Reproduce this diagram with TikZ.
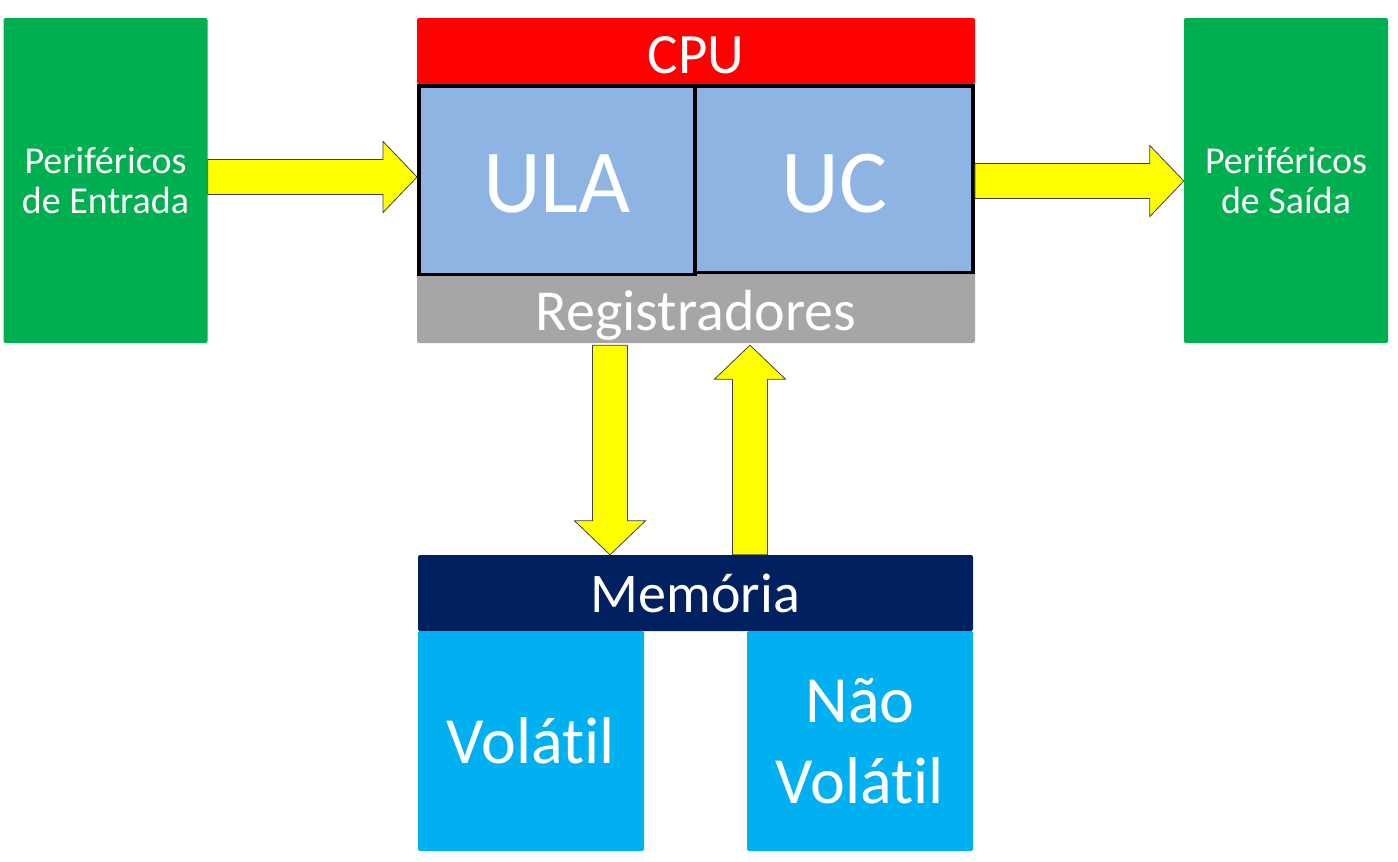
\documentclass[tikz,border=0pt]{standalone}
\usepackage{fontspec}
\setmainfont{Carlito}[Ligatures=NoCommon]
\usetikzlibrary{calc}
\definecolor{cgreen}{HTML}{00B050}
\definecolor{cred}{HTML}{FF0000}
\definecolor{cula}{HTML}{8EB4E3}
\definecolor{cgray}{HTML}{A6A6A6}
\definecolor{cnavy}{HTML}{002060}
\definecolor{ccyan}{HTML}{00B0F0}
\definecolor{cyel}{HTML}{FFFF00}
\def\sw{17.5pt}
\def\hw{35.5pt}
\def\hl{34pt}
\newcommand\arrowR[2]{\draw[barrow] let \p1=(#1), \p2=(#2) in (\x1,\y1+\sw) -- (\x2-\hl,\y1+\sw) -- (\x2-\hl,\y1+\hw) -- (\x2,\y1) -- (\x2-\hl,\y1-\hw) -- (\x2-\hl,\y1-\sw) -- (\x1,\y1-\sw) -- cycle;}
\newcommand\arrowV[2]{\draw[barrow] let \p1=(#1), \p2=(#2), \n1={sign(\y2-\y1)} in (\x1-\sw,\y1) -- (\x1-\sw,\y2-\n1*\hl) -- (\x1-\hw,\y2-\n1*\hl) -- (\x1,\y2) -- (\x1+\hw,\y2-\n1*\hl) -- (\x1+\sw,\y2-\n1*\hl) -- (\x1+\sw,\y1) -- cycle;}
\begin{document}
\begin{tikzpicture}[x=1pt,y=-1pt,
  box/.style={draw=none, rounded corners=2pt, inner sep=0pt, text=white, align=center},
  unit/.style={draw=black, line width=3.5pt, fill=cula, inner sep=0pt, text=white, font=\fontsize{90pt}{100pt}\selectfont, text depth=0pt},
  barrow/.style={fill=cyel, draw=black!75, line width=0.8pt}]
\useasboundingbox (0,0) rectangle (1398,862);
% peripherals
\node[box, fill=cgreen, minimum width=204pt, minimum height=325pt, font=\fontsize{38pt}{40.5pt}\selectfont] (pin) at (105.5,180.5) {Periféricos\\de Entrada};
\node[box, fill=cgreen, minimum width=204pt, minimum height=325pt, font=\fontsize{38pt}{40.5pt}\selectfont] (pout) at (1286,180.5) {Periféricos\\de Saída};
% CPU
\node[box, fill=cred, minimum width=558pt, minimum height=66pt, font=\fontsize{57pt}{60pt}\selectfont, text height=44pt, text depth=0pt] (cpu) at (696,51) {CPU};
\node[box, fill=cgray, minimum width=558pt, minimum height=70pt, font=\fontsize{58pt}{60pt}\selectfont, text height=44pt, text depth=0pt] (reg) at (696,308) {Registradores};
\node[unit, minimum width=276.25pt, minimum height=188.5pt, text height=64pt] (ula) at (556.9,180) {ULA};
\node[unit, minimum width=278.25pt, minimum height=186.5pt, text height=66pt] (uc) at (834.1,179) {UC};
% memory
\node[box, fill=cnavy, minimum width=555pt, minimum height=76pt, font=\fontsize{56pt}{60pt}\selectfont, text height=38pt, text depth=0pt] (mem) at (695.5,593) {Memória};
\node[box, fill=ccyan, minimum width=226pt, minimum height=220pt, font=\fontsize{66pt}{70pt}\selectfont, text height=44pt, text depth=0pt] (vol) at (531,741) {Volátil};
\node[box, fill=ccyan, minimum width=226pt, minimum height=220pt, font=\fontsize{66pt}{81pt}\selectfont] (nvol) at (860,741) {Não\\Volátil};
% arrows
\arrowR{[yshift=3.5pt]pin.east}{[yshift=3.5pt]ula.west}
\arrowR{[yshift=-2pt]uc.east}{pout.west}
\arrowV{[xshift=-86pt,yshift=-2pt]reg.south}{[xshift=-85.5pt]mem.north}
\arrowV{[xshift=54.5pt]mem.north}{[xshift=54.5pt,yshift=-2pt]reg.south}
\end{tikzpicture}
\end{document}
